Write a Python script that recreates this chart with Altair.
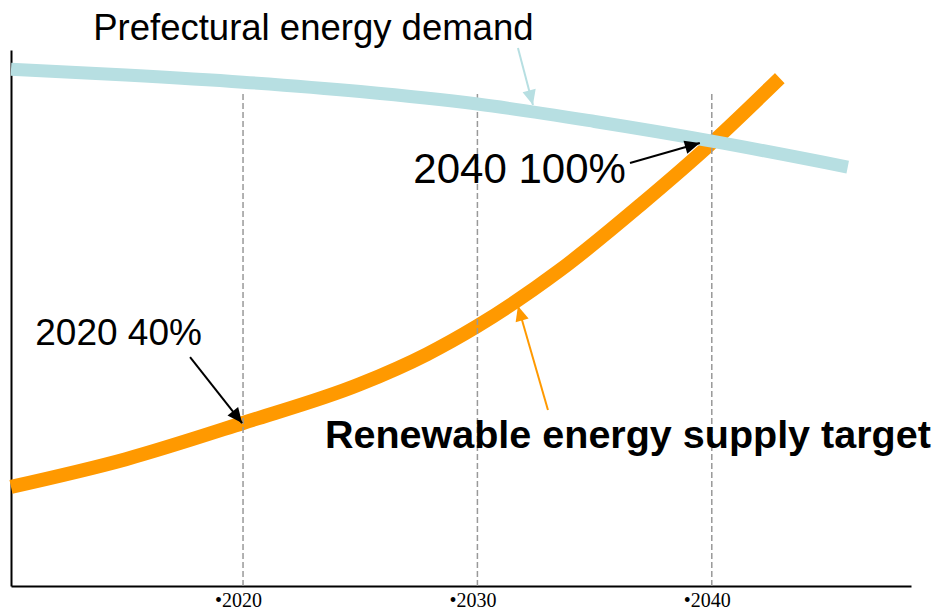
import math
import altair as alt
import pandas as pd

# ---- data (x = year, y = energy index) ----
demand_years = [2010.1, 2015, 2020, 2025, 2030, 2035, 2040, 2045.8]
demand_values = [115.7, 114.4, 112.8, 110.7, 107.9, 104.0, 99.6, 93.8]

renew_years = [2010.1, 2015.0, 2020, 2025.0, 2027.85, 2030, 2033.52, 2037.02, 2040, 2042.9]
renew_values = [22.2, 28.4, 36.5, 45.2, 51.9, 58.2, 70.7, 85.6, 99.2, 113.7]

tick_years = [2020, 2030, 2040]
grid_top = 110.4

label_texts = ["Prefectural energy demand", "2040 100%", "2020 40%"]
label_x = [2023.0, 2031.8, 2014.69]
label_y = [122.2, 90.2, 53.95]
label_size = [36.5, 42, 37]

bold_texts = ["Renewable energy supply target"]
bold_x = [2036.42]
bold_y = [30.9]
bold_size = [39.5]

arrow_x1 = [2031.73, 2036.51, 2017.74, 2033.01]
arrow_y1 = [120.44, 94.69, 51.26, 39.40]
arrow_x2 = [2032.37, 2039.49, 2019.96, 2031.73]
arrow_y2 = [107.68, 99.17, 36.49, 62.68]
arrow_colors = ["#b7dfe2", "#000000", "#000000", "#ff9900"]

X_DOMAIN = [2010.1, 2048.5]
Y_DOMAIN = [0, 120]
W, H = 900, 536

BLUE = "#b7dfe2"
ORANGE = "#ff9900"

xs = alt.Scale(domain=X_DOMAIN, nice=False, zero=False)
ys = alt.Scale(domain=Y_DOMAIN, nice=False, zero=False)
x_axis = alt.Axis(values=tick_years, format="d", labelExpr="'•' + datum.label",
                  labelFont="Liberation Serif", labelFontSize=20, labelColor="black",
                  labelPadding=4, labelOffset=-5, ticks=False, tickSize=0, grid=False,
                  title=None, domainColor="black", domainWidth=2)
y_axis = alt.Axis(labels=False, ticks=False, tickSize=0, grid=False, title=None,
                  domainColor="black", domainWidth=2)


def X(f):
    return alt.X(f, type="quantitative", scale=xs, axis=x_axis)


def Y(f):
    return alt.Y(f, type="quantitative", scale=ys, axis=y_axis)


demand_df = pd.DataFrame({"year": demand_years, "v": demand_values})
renew_df = pd.DataFrame({"year": renew_years, "v": renew_values})

renew_line = alt.Chart(renew_df).mark_line(
    color=ORANGE, strokeWidth=14, strokeCap="butt", interpolate="monotone"
).encode(x=X("year"), y=Y("v"))

demand_line = alt.Chart(demand_df).mark_line(
    color=BLUE, strokeWidth=13, strokeCap="butt", interpolate="monotone"
).encode(x=X("year"), y=Y("v"))

grid_df = pd.DataFrame({"year": tick_years, "y0": [0] * 3, "y1": [grid_top] * 3})
grid = alt.Chart(grid_df).mark_rule(
    color="#999999", strokeWidth=1.5, strokeDash=[6, 3]
).encode(x=X("year"), y=Y("y0"), y2="y1")

# arrows
px_x = W / (X_DOMAIN[1] - X_DOMAIN[0])
px_y = H / (Y_DOMAIN[1] - Y_DOMAIN[0])
angles = []
for a, b, c, d in zip(arrow_x1, arrow_y1, arrow_x2, arrow_y2):
    dx = (c - a) * px_x
    dy = -(d - b) * px_y
    angles.append(math.degrees(math.atan2(dx, -dy)) % 360)

arrow_df = pd.DataFrame({"x1": arrow_x1, "y1": arrow_y1, "x2": arrow_x2,
                         "y2": arrow_y2, "c": arrow_colors, "ang": angles})
shafts = alt.Chart(arrow_df).mark_rule(strokeWidth=2).encode(
    x=X("x1"), y=Y("y1"), x2="x2", y2="y2", color=alt.Color("c:N", scale=None))
heads = alt.Chart(arrow_df).mark_point(
    shape="M0,0L-0.9,2L0.9,2Z", filled=True, size=225, opacity=1, strokeWidth=0
).encode(x=X("x2"), y=Y("y2"), color=alt.Color("c:N", scale=None),
         angle=alt.Angle("ang:Q", scale=None))

lab_df = pd.DataFrame({"t": label_texts, "x": label_x, "y": label_y, "s": label_size})
labels = alt.Chart(lab_df).mark_text(
    font="Liberation Sans", align="center", baseline="alphabetic", color="black"
).encode(x=X("x"), y=Y("y"), text="t:N", size=alt.Size("s:Q", scale=None))

bold_df = pd.DataFrame({"t": bold_texts, "x": bold_x, "y": bold_y, "s": bold_size})
bold = alt.Chart(bold_df).mark_text(
    font="Liberation Sans", fontWeight="bold", align="center", baseline="alphabetic",
    color="black"
).encode(x=X("x"), y=Y("y"), text="t:N", size=alt.Size("s:Q", scale=None))

chart = alt.layer(renew_line, grid, demand_line, shafts, heads, labels, bold).properties(
    width=W, height=H,
    autosize=alt.AutoSizeParams(type="none"),
    padding={"left": 3, "top": 42, "right": 24, "bottom": 40},
    background="white",
).configure_view(stroke=None)

chart.save("out.html", embed_options={"renderer": "svg", "actions": False})
